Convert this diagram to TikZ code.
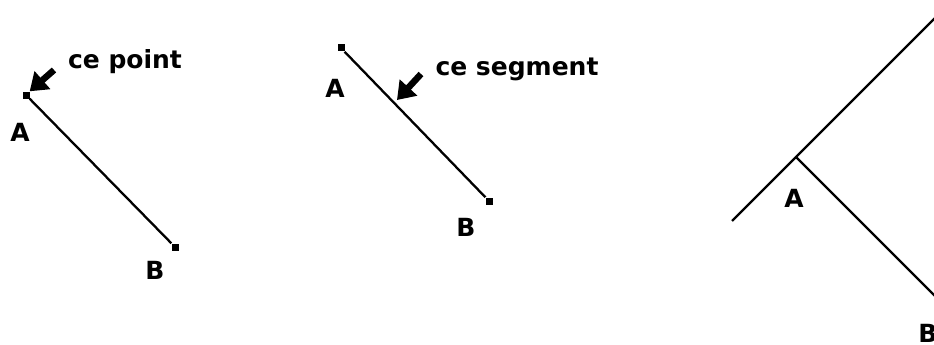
\documentclass[tikz,border=0pt]{standalone}
\usepackage{fontspec}
\setmainfont{DejaVu Sans}
\usetikzlibrary{arrows.meta}

\begin{document}
\begin{tikzpicture}[
  x=1pt,
  y=-1pt,
  font=\bfseries\fontsize{25}{25}\selectfont,
  >=Stealth,
  dot/.style={fill, minimum size=7pt, inner sep=0pt},
  seg/.style={line width=2.3pt},
  label/.style={inner sep=0pt},
  pointer/.style={-{Triangle[length=17pt,width=23pt]}, line width=6.5pt}
]
  \useasboundingbox (0,0) rectangle (934,345);

  % premier cas : le point A
  \node[dot] (A1) at (26,95) {};
  \node[dot] (B1) at (175,247) {};
  \node[label] (lA1) at (20,132) {A};
  \node[label] (lB1) at (155,270) {B};
  \node[label] (t1) at (125,62) {ce point};
  \coordinate (p1) at (54,70);
  \draw[seg] (A1) -- (B1);
  \draw[pointer] (p1) -- (A1.north east);

  % second cas : le segment AB
  \node[dot] (A2) at (341,48) {};
  \node[dot] (B2) at (489,201) {};
  \node[label] (lA2) at (335,88) {A};
  \node[label] (lB2) at (466,227) {B};
  \node[label] (t2) at (517,69) {ce segment};
  \coordinate (p2) at (421,74);
  \coordinate (q2) at (397,100);
  \draw[seg] (A2) -- (B2);
  \draw[pointer] (p2) -- (q2);

  % troisieme cas : droite et perpendiculaire en A
  \begin{scope}
    \clip (0,0) rectangle (934,345);
    \coordinate (A3) at (796,157);
    \coordinate (L1) at (732,221);
    \coordinate (L2) at (960,-7);
    \coordinate (B3) at (990,351);
    \node[label] (lA3) at (794,198) {A};
    \node[label] (lB3) at (928,333) {B};
    \draw[seg] (L1) -- (L2);
    \draw[seg] (A3) -- (B3);
  \end{scope}
\end{tikzpicture}
\end{document}
